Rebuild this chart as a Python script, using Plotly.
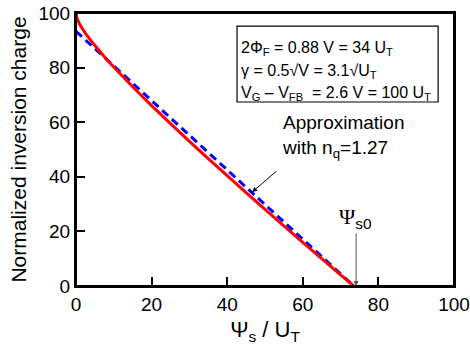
import plotly.graph_objects as go

# Exact inversion charge
psi_exact = [0, 0.25, 0.5, 1, 2, 3, 5, 7.5, 10, 15, 20, 30, 40, 50, 60, 70, 73.5]
q_exact = [100, 98.2, 97.3, 95.9, 93.6, 91.6, 88.1, 84.0, 80.2, 73.0, 66.1, 53.0, 40.4, 28.1, 16.0, 4.1, 0]

# Linear approximation with n_q = 1.27
psi_approx = [0, 73.5]
q_approx = [93.3, 0]

x_ticks = [0, 20, 40, 60, 80, 100]
y_ticks = [0, 20, 40, 60, 80, 100]

FONT = "Arial, Liberation Sans, sans-serif"

fig = go.Figure()
fig.add_trace(go.Scatter(x=psi_approx, y=q_approx, mode="lines",
                         line=dict(color="#0000ff", width=3, dash="8px,5px"),
                         showlegend=False))
fig.add_trace(go.Scatter(x=psi_exact, y=q_exact, mode="lines",
                         line=dict(color="#ff0000", width=3, shape="spline", smoothing=0.6),
                         showlegend=False))

axis_common = dict(showline=True, linecolor="black", linewidth=2, mirror=True,
                   ticks="inside", ticklen=9, tickwidth=2, tickcolor="black",
                   showgrid=False, zeroline=False, automargin=False,
                   tickfont=dict(family=FONT, size=19, color="black"))

fig.update_xaxes(range=[0, 100], tickvals=x_ticks, **axis_common,
                 title=dict(text="Ψ<sub>s</sub> / U<sub>T</sub>",
                            font=dict(family=FONT, size=22, color="black"), standoff=8))
fig.update_yaxes(range=[0, 100], tickvals=y_ticks, **axis_common,
                 title=dict(text="Normalized inversion charge",
                            font=dict(family=FONT, size=21, color="black"), standoff=6))

# Plot frame (explicit, so top and right edges are always drawn)
fig.add_shape(type="rect", xref="x domain", yref="y domain", x0=0, x1=1, y0=0, y1=1,
              line=dict(color="black", width=2), layer="above")

# Parameter box
fig.add_shape(type="rect", xref="x", yref="y", x0=42.6, x1=95.8, y0=67.4, y1=95.2,
              line=dict(color="black", width=1.2), fillcolor="white", layer="above")
box_lines = ["2Φ<sub>F</sub> = 0.88 V = 34 U<sub>T</sub>",
             "γ = 0.5√V = 3.1√U<sub>T</sub>",
             "V<sub>G</sub> – V<sub>FB</sub>  = 2.6 V = 100 U<sub>T</sub>"]
box_y = [87.0, 78.6, 70.5]
for t, yy in zip(box_lines, box_y):
    fig.add_annotation(x=43.0, y=yy, xref="x", yref="y", text=t, showarrow=False,
                       xanchor="left", yanchor="middle",
                       font=dict(family=FONT, size=16, color="black"))

# Approximation label with arrow
fig.add_annotation(x=54.0, y=54.6, xref="x", yref="y",
                   text="Approximation<br>with n<sub>q</sub>=1.27", showarrow=False,
                   xanchor="left", yanchor="middle", align="left",
                   font=dict(family=FONT, size=19, color="black"))
fig.add_annotation(x=46.6, y=34.4, ax=53.4, ay=42.5, xref="x", yref="y",
                   axref="x", ayref="y", text="", showarrow=True,
                   arrowhead=2, arrowsize=1, arrowwidth=1, arrowcolor="black")

# Psi_s0 marker
fig.add_annotation(x=74.1, y=0, ax=74.1, ay=19.8, xref="x", yref="y",
                   axref="x", ayref="y", text="", showarrow=True,
                   arrowhead=2, arrowsize=1, arrowwidth=1, arrowcolor="#555555")
fig.add_annotation(x=69.0, y=25.0, xref="x", yref="y",
                   text='<span style="font-family:Liberation Serif, serif">Ψ</span><sub>s0</sub>',
                   showarrow=False, xanchor="left", yanchor="middle",
                   font=dict(family=FONT, size=22, color="black"))

fig.update_layout(width=470, height=352, margin=dict(l=76, r=16, t=13, b=66),
                  plot_bgcolor="white", paper_bgcolor="white",
                  font=dict(family=FONT, color="black"))

# remove the default page margin so the figure fills the 470x352 window exactly
fig.write_html("out.html", config={"displayModeBar": False},
               post_script="document.body.style.margin='0px';document.body.style.overflow='hidden';")
